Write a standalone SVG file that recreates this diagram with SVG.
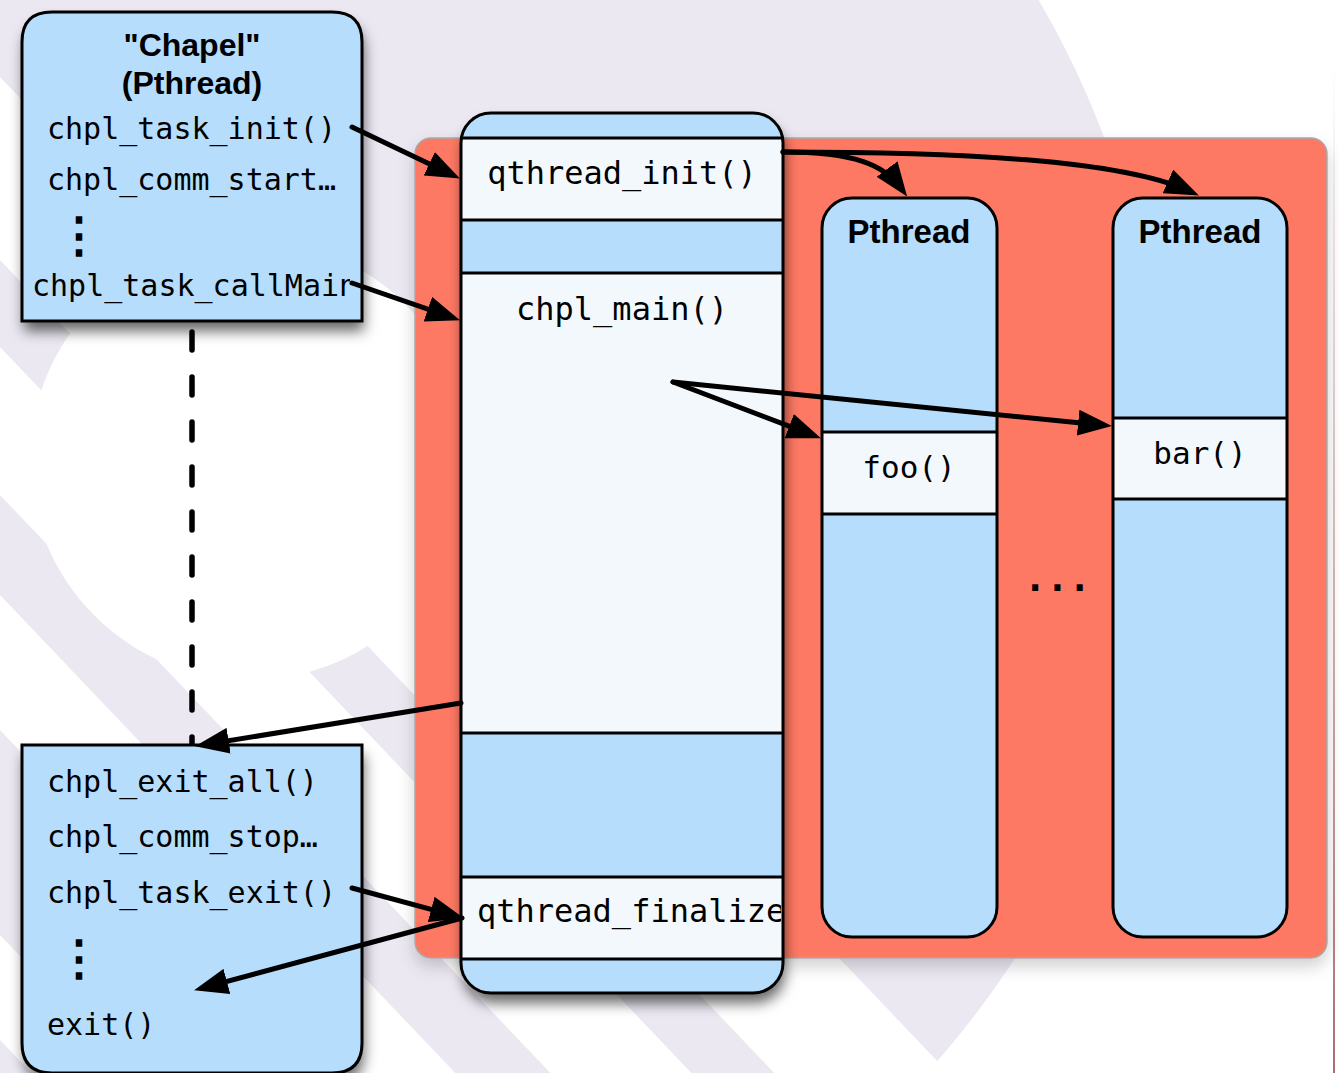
<svg xmlns="http://www.w3.org/2000/svg" width="1339" height="1073" viewBox="0 0 1339 1073">
  <style>
    .mono { font-family: "DejaVu Sans Mono", "Liberation Mono", monospace; fill: #000; }
    .dots { font-family: "DejaVu Sans Mono", "Liberation Mono", monospace; font-weight: bold; fill: #000; }
    .head { font-family: "Liberation Sans", Arial, sans-serif; font-weight: bold; fill: #000; }
    .blue { fill: #b6ddfc; }
    .pale { fill: #f3f8fd; }
    .edge { fill: none; stroke: #000; stroke-width: 3; }
    .sep { stroke: #000; stroke-width: 3; }
    .arrow { fill: none; stroke: #000; stroke-width: 5; stroke-linecap: round; marker-end: url(#head); }
  </style>
  <defs>
    <marker id="head" markerUnits="userSpaceOnUse" markerWidth="34" markerHeight="26" refX="23" refY="13" orient="auto">
      <path d="M0,0 L34,13 L0,26 z" fill="#000"/>
    </marker>
    <filter id="shadow" x="-20%" y="-20%" width="140%" height="140%">
      <feDropShadow dx="2" dy="10" stdDeviation="7" flood-color="#000" flood-opacity="0.6"/>
    </filter>
    <filter id="softShadow" x="-10%" y="-10%" width="120%" height="125%">
      <feDropShadow dx="0" dy="8" stdDeviation="8" flood-color="#000" flood-opacity="0.18"/>
    </filter>
    <linearGradient id="edgeLine" x1="0" y1="0" x2="0" y2="1">
      <stop offset="0" stop-color="#b07070" stop-opacity="0"/>
      <stop offset="0.35" stop-color="#b07070" stop-opacity="0.35"/>
      <stop offset="1" stop-color="#9a5555" stop-opacity="0.85"/>
    </linearGradient>
    <clipPath id="clipTop"><rect x="22" y="12" width="328" height="310"/></clipPath>
    <clipPath id="clipFinal"><rect x="461" y="877" width="320" height="82"/></clipPath>
  </defs>

  <!-- backdrop: pale ring with diagonal bands -->
  <rect width="1339" height="1073" fill="#fff"/>
  <g id="backdrop">
    <path fill="#ebe8f2" fill-rule="evenodd"
          d="M-663,460 a913,913 0 1,0 1826,0 a913,913 0 1,0 -1826,0 Z
             M30,460 a220,220 0 1,1 440,0 a220,220 0 1,1 -440,0 Z"/>
    <g fill="#fff">
      <polygon points="0,77 1200,1337 1200,1520 0,260"/>
      <polygon points="0,347 1200,1607 1200,1755 0,495"/>
      <polygon points="0,595 1200,1855 1200,1990 0,730"/>
      <polygon points="0,935 1200,2195 1200,2300 0,1040"/>
    </g>
    <rect x="1333" y="60" width="2" height="1013" fill="url(#edgeLine)"/>
  </g>

  <!-- task panel -->
  <g id="panel">
    <rect x="415" y="138" width="912" height="820" rx="16" fill="#fe7964" stroke="#a9a9a9" stroke-width="1.5" filter="url(#softShadow)"/>
  </g>

  <!-- Chapel start-up box -->
  <g id="chapel-start">
    <path d="M22,321 V42 Q22,12 52,12 H332 Q362,12 362,42 V321 Z" class="blue" filter="url(#shadow)"/>
    <path d="M22,321 V42 Q22,12 52,12 H332 Q362,12 362,42 V321 Z" class="edge"/>
    <text class="head" x="192" y="56" font-size="32" text-anchor="middle">"Chapel"</text>
    <text class="head" x="192" y="94" font-size="32" text-anchor="middle">(Pthread)</text>
    <text class="mono" x="47" y="139" font-size="30">chpl_task_init()</text>
    <text class="mono" x="47" y="190" font-size="30">chpl_comm_start…</text>
    <text class="dots" x="55" y="252" font-size="48">⋮</text>
    <text class="mono" x="32" y="296" font-size="30" clip-path="url(#clipTop)">chpl_task_callMain</text>
  </g>

  <!-- Chapel shut-down box -->
  <g id="chapel-exit">
    <path d="M22,745 H362 V1043 Q362,1073 332,1073 H52 Q22,1073 22,1043 Z" class="blue" filter="url(#shadow)"/>
    <path d="M22,745 H362 V1043 Q362,1073 332,1073 H52 Q22,1073 22,1043 Z" class="edge"/>
    <text class="mono" x="47" y="792" font-size="30">chpl_exit_all()</text>
    <text class="mono" x="47" y="847" font-size="30">chpl_comm_stop…</text>
    <text class="mono" x="47" y="903" font-size="30">chpl_task_exit()</text>
    <text class="dots" x="55" y="975" font-size="48">⋮</text>
    <text class="mono" x="47" y="1035" font-size="30">exit()</text>
  </g>

  <!-- qthreads main column -->
  <g id="qthread-main">
    <rect x="461" y="113" width="322" height="880" rx="30" class="blue" filter="url(#shadow)"/>
    <rect x="461" y="138" width="322" height="82" class="pale"/>
    <rect x="461" y="273" width="322" height="460" class="pale"/>
    <rect x="461" y="877" width="322" height="82" class="pale"/>
    <line x1="461" y1="138" x2="783" y2="138" class="sep"/>
    <line x1="461" y1="220" x2="783" y2="220" class="sep"/>
    <line x1="461" y1="273" x2="783" y2="273" class="sep"/>
    <line x1="461" y1="733" x2="783" y2="733" class="sep"/>
    <line x1="461" y1="877" x2="783" y2="877" class="sep"/>
    <line x1="461" y1="959" x2="783" y2="959" class="sep"/>
    <rect x="461" y="113" width="322" height="880" rx="30" class="edge"/>
    <text class="mono" x="622" y="184" font-size="32" text-anchor="middle">qthread_init()</text>
    <text class="mono" x="622" y="320" font-size="32" text-anchor="middle">chpl_main()</text>
    <text class="mono" x="477" y="922" font-size="32" clip-path="url(#clipFinal)">qthread_finalize</text>
  </g>

  <!-- worker pthread 1 -->
  <g id="pthread-1">
    <rect x="822" y="198" width="175" height="739" rx="30" class="blue"/>
    <rect x="822" y="432" width="175" height="82" class="pale"/>
    <line x1="822" y1="432" x2="997" y2="432" class="sep"/>
    <line x1="822" y1="514" x2="997" y2="514" class="sep"/>
    <rect x="822" y="198" width="175" height="739" rx="30" class="edge"/>
    <text class="head" x="909" y="243" font-size="33" text-anchor="middle">Pthread</text>
    <text class="mono" x="909" y="478" font-size="31" text-anchor="middle">foo()</text>
  </g>

  <!-- worker pthread 2 -->
  <g id="pthread-2">
    <rect x="1113" y="198" width="174" height="739" rx="30" class="blue"/>
    <rect x="1113" y="418" width="174" height="81" class="pale"/>
    <line x1="1113" y1="418" x2="1287" y2="418" class="sep"/>
    <line x1="1113" y1="499" x2="1287" y2="499" class="sep"/>
    <rect x="1113" y="198" width="174" height="739" rx="30" class="edge"/>
    <text class="head" x="1200" y="243" font-size="33" text-anchor="middle">Pthread</text>
    <text class="mono" x="1200" y="464" font-size="31" text-anchor="middle">bar()</text>
  </g>

  <g id="more-workers">
    <text class="dots" x="1024" y="591" font-size="37">...</text>
  </g>

  <!-- call / spawn / return connectors -->
  <g id="connectors">
    <line x1="192" y1="332" x2="192" y2="743" fill="none" stroke="#000" stroke-width="5.5" stroke-linecap="round" stroke-dasharray="18 27"/>
    <path class="arrow" d="M352,127 L450,173.7"/>
    <path class="arrow" d="M352,283 L449.6,316.7"/>
    <path class="arrow" d="M783,152 C855,152 884,165 900.6,187.6"/>
    <path class="arrow" d="M783,152 C960,152 1120,160 1188.9,190.9"/>
    <path class="arrow" d="M673,382 L810.7,434.4"/>
    <path class="arrow" d="M673,382 L1101,425"/>
    <path class="arrow" d="M461,703 L205.9,744.4"/>
    <path class="arrow" d="M352,888 L453.4,915.4"/>
    <path class="arrow" d="M462,918 L204.7,987.4"/>
  </g>
</svg>
